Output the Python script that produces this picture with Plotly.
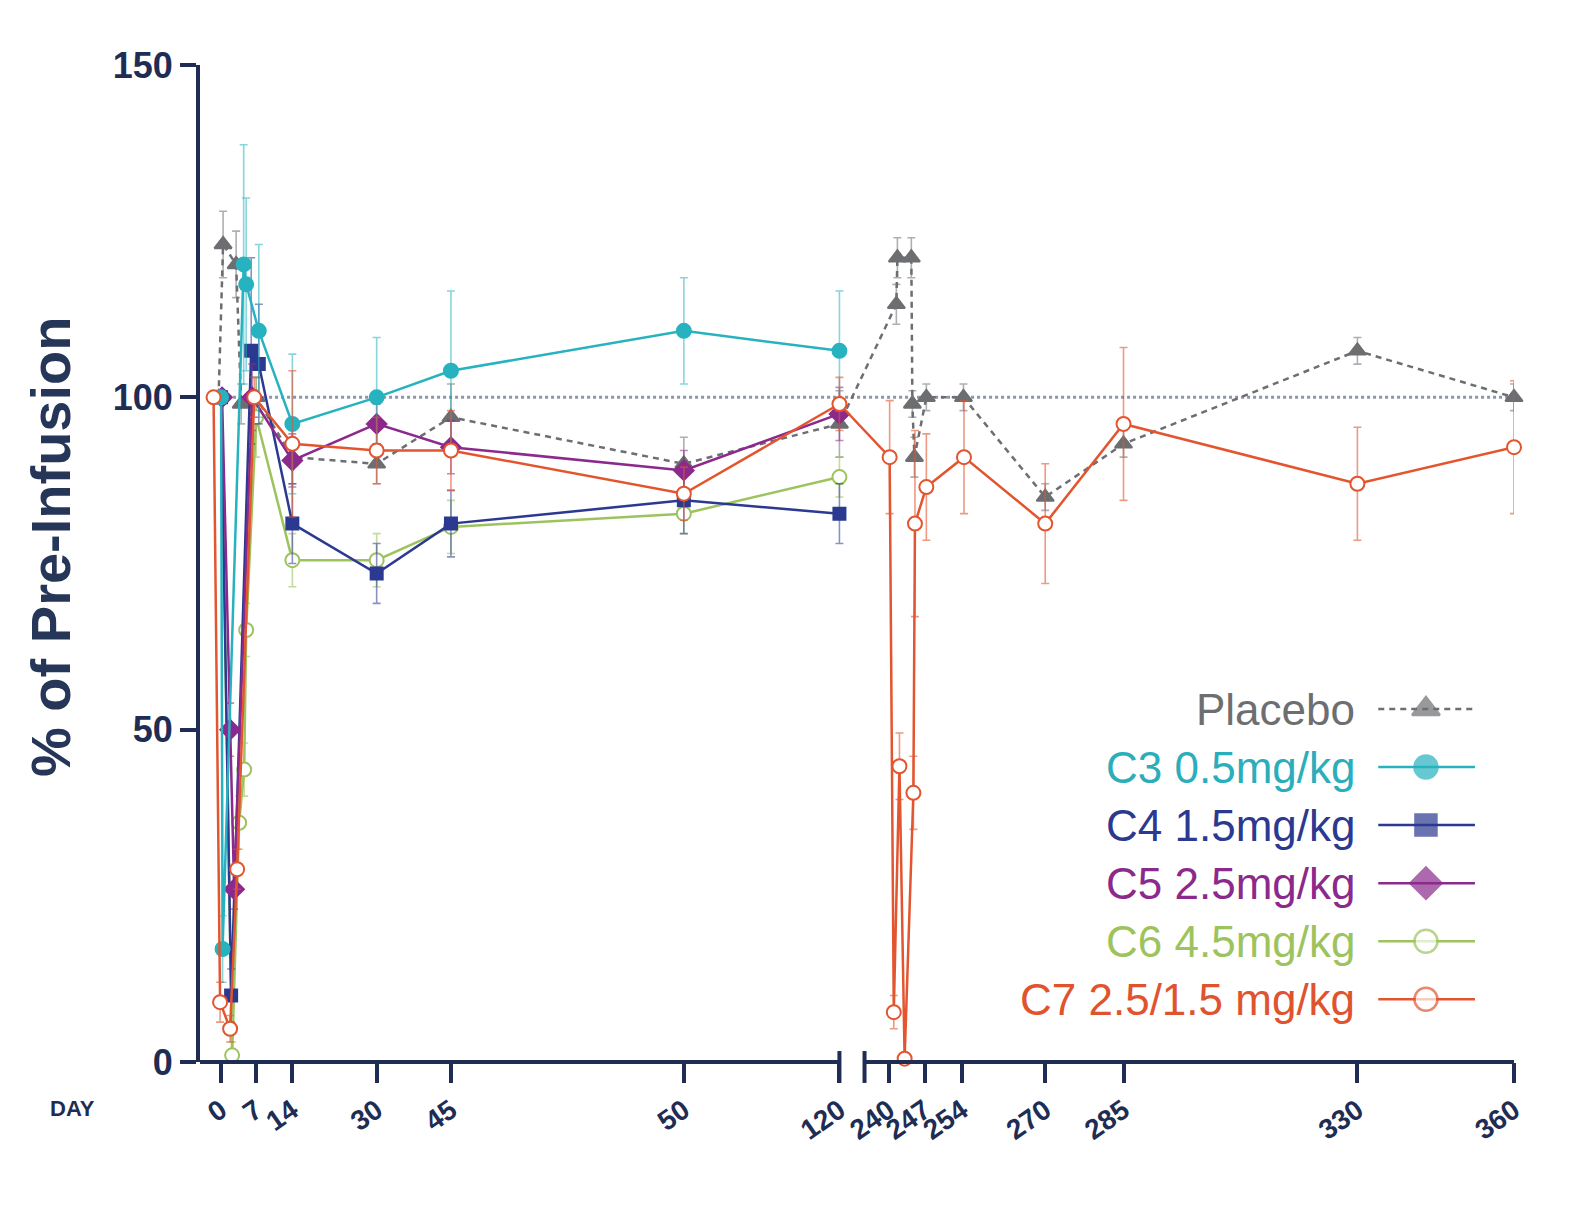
import numpy as np
import plotly.graph_objects as go

# ось X в исходнике сегментная (как в Prism): день -> позиция
AXIS_DAYS = [-2, 0, 7, 14, 30, 45, 50, 120, 240, 247, 254, 270, 285, 330, 360]
AXIS_POS = [207, 217, 252, 288, 372, 446, 678, 833, 882, 918, 955, 1038, 1116, 1349, 1505]
TICK_LABELS = ['0', '7', '14', '30', '45', '50', '120', '240', '247', '254', '270', '285', '330', '360']

# Placebo
placebo_days = [-0.5, 0.4, 3, 4, 7, 14, 30, 45, 50, 120, 241.5, 241.7, 244.4, 244.6, 245, 247.3, 254.3, 270, 285, 330, 360]
placebo_vals = [100, 123, 120, 99, 100, 91, 90, 97, 90, 96, 114, 121, 121, 99, 91, 100, 100, 85, 93, 107, 100]
placebo_err = [0, 5, 5, 3, 3, 4, 3, 5, 4, 5, 3, 3, 3, 2, 3, 2, 2, 2, 2, 2, 2]

# C3 0.5mg/kg
c3_days = [0, 0.3, 4.5, 5, 7.5, 14, 30, 45, 50, 120]
c3_vals = [100, 17, 120, 117, 110, 96, 100, 104, 110, 107]
c3_err = [0, 5, 18, 13, 13, 10.5, 9, 12, 8, 9]

# C4 1.5mg/kg
c4_days = [0, 2, 6, 7.5, 14, 30, 45, 50, 120]
c4_vals = [100, 10, 107, 105, 81, 73.5, 81, 84.5, 82.5]
c4_err = [0, 4, 14, 9, 6, 4.5, 5, 5, 4.5]

# C5 2.5mg/kg
c5_days = [0.2, 1.8, 2.6, 6.2, 14, 30, 45, 50, 120]
c5_vals = [100, 50, 26, 100, 90.5, 96, 92.5, 89, 97.5]
c5_err = [0, 4, 3, 5, 4, 3, 4, 3, 4]

# C6 4.5mg/kg
c6_days = [0, 2.2, 3.6, 4.6, 5, 7, 14, 30, 45, 50, 120]
c6_vals = [100, 1, 36, 44, 65, 97, 75.5, 75.5, 80.5, 82.5, 88]
c6_err = [0, 2, 4, 4, 4, 6, 4, 4, 4, 3, 3]

# C7 2.5/1.5 mg/kg
c7_days = [-1.5, -0.2, 1.8, 3.2, 6.6, 14, 30, 45, 50, 120, 240.2, 241, 242.1, 243.1, 244.8, 245.1, 247.3, 254.4, 270, 285, 330, 360]
c7_vals = [100, 9, 5, 29, 100, 93, 92, 92, 85.5, 99, 91, 7.5, 44.5, 0.5, 40.5, 81, 86.5, 91, 81, 96, 87, 92.5]
c7_err = [0, 3, 2, 3, 3, 11, 5, 6, 4, 4, 8.5, 2.5, 5, 0.5, 5.5, 14, 8, 8.5, 9, 11.5, 8.5, 10]

NAVY = '#1f2d54'

series = [
    # name, days, vals, err, line color, error color, symbol, fill, size, dash
    ('Placebo', placebo_days, placebo_vals, placebo_err, '#6d6e71', 'rgba(109,110,113,0.55)', 'triangle-up', '#6d6e71', 15, 'dash'),
    ('C6 4.5mg/kg', c6_days, c6_vals, c6_err, '#9dc35f', 'rgba(157,195,95,0.6)', 'circle', 'white', 14, 'solid'),
    ('C4 1.5mg/kg', c4_days, c4_vals, c4_err, '#2b3990', 'rgba(43,57,144,0.55)', 'square', '#2b3990', 12, 'solid'),
    ('C5 2.5mg/kg', c5_days, c5_vals, c5_err, '#8b2a8c', 'rgba(139,42,140,0.55)', 'diamond', '#8b2a8c', 15, 'solid'),
    ('C3 0.5mg/kg', c3_days, c3_vals, c3_err, '#27b2c0', 'rgba(39,178,192,0.55)', 'circle', '#27b2c0', 14, 'solid'),
    ('C7 2.5/1.5 mg/kg', c7_days, c7_vals, c7_err, '#e2552f', 'rgba(226,85,47,0.6)', 'circle', 'white', 14, 'solid'),
]

fig = go.Figure()

for name, days, vals, err, col, ecol, sym, fill, size, dash in series:
    xs = np.interp(days, AXIS_DAYS, AXIS_POS)
    fig.add_trace(go.Scatter(
        x=xs, y=vals, mode='lines+markers', name=name, showlegend=False,
        line=dict(color=col, width=2.5, dash='6px,5px' if dash == 'dash' else 'solid'),
        marker=dict(symbol=sym, size=size, color=fill, line=dict(color=col, width=2)),
        error_y=dict(type='data', array=err, color=ecol, thickness=1.6, width=4),
        cliponaxis=False,
    ))

# легенда справа от текста (как в исходнике)
legend_order = ['Placebo', 'C3 0.5mg/kg', 'C4 1.5mg/kg', 'C5 2.5mg/kg', 'C6 4.5mg/kg', 'C7 2.5/1.5 mg/kg']
legend_text_col = {
    'Placebo': '#6d6e71', 'C3 0.5mg/kg': '#2aaebc', 'C4 1.5mg/kg': '#2b3990',
    'C5 2.5mg/kg': '#8b2a8c', 'C6 4.5mg/kg': '#9dc35f', 'C7 2.5/1.5 mg/kg': '#e0532f',
}
style = {s[0]: s for s in series}
for i, name in enumerate(legend_order):
    ly = 0.354 - i * 0.0582
    _, _, _, _, col, _, sym, fill, size, dash = style[name]
    fig.add_annotation(x=0.8808, y=ly, xref='paper', yref='paper', text=name, showarrow=False,
                       xanchor='right', yanchor='middle',
                       font=dict(family='Liberation Sans, Arial', size=44, color=legend_text_col[name]))
    fig.add_trace(go.Scatter(
        x=[0.8967, 0.933, 0.9703], y=[ly, ly, ly], xaxis='x2', yaxis='y2',
        mode='lines+markers', showlegend=False, hoverinfo='skip',
        line=dict(color=col, width=2.5, dash='6px,5px' if dash == 'dash' else 'solid'),
        marker=dict(symbol=sym, size=[0, size + 9, 0], color=fill, line=dict(color=col, width=[0, 2.5, 0])),
        cliponaxis=False,
    ))

# сегменты оси X с разрывом
def px(p):
    return (p - 196) / (1505 - 196)

shapes = [
    dict(type='line', xref='paper', yref='paper', x0=0, x1=px(833), y0=0, y1=0, line=dict(color=NAVY, width=4)),
    dict(type='line', xref='paper', yref='paper', x0=px(858), x1=1, y0=0, y1=0, line=dict(color=NAVY, width=4)),
    dict(type='line', xref='paper', yref='paper', x0=px(833), x1=px(833), y0=0.011, y1=-0.021, line=dict(color=NAVY, width=4)),
    dict(type='line', xref='paper', yref='paper', x0=px(858), x1=px(858), y0=0.011, y1=-0.021, line=dict(color=NAVY, width=4)),
    dict(type='line', xref='x', yref='y', x0=217, x1=1505, y0=100, y1=100, layer='below',
         line=dict(color='#8d96a6', width=3, dash='dot')),
]

fig.update_layout(
    width=1561, height=1191,
    margin=dict(l=192, r=55, t=57, b=137),
    plot_bgcolor='white', paper_bgcolor='white',
    font=dict(family='Liberation Sans, Arial', color=NAVY),
    shapes=shapes,
    xaxis=dict(
        range=[196, 1505], showline=False, showgrid=False, zeroline=False,
        tickmode='array', tickvals=AXIS_POS[1:], ticktext=TICK_LABELS,
        ticks='outside', ticklen=20, tickwidth=4, tickcolor=NAVY, tickangle=-35,
        tickfont=dict(size=28, color=NAVY, weight='bold'),
    ),
    yaxis=dict(
        range=[0, 150], showline=True, linewidth=4, linecolor=NAVY, showgrid=False, zeroline=False,
        tickvals=[0, 50, 100, 150], ticks='outside', ticklen=16, tickwidth=4, tickcolor=NAVY,
        tickfont=dict(size=36, color=NAVY, weight='bold'),
    ),
    xaxis2=dict(overlaying='x', range=[0, 1], visible=False),
    yaxis2=dict(overlaying='y', range=[0, 1], visible=False),
    showlegend=False,
)

fig.add_annotation(x=-0.1142, y=0.5165, xref='paper', yref='paper', text='% of Pre-Infusion',
                   textangle=-90, showarrow=False, xanchor='center', yanchor='middle',
                   font=dict(size=56, color='#263659', weight='bold'))
fig.add_annotation(x=-0.0974, y=-0.0471, xref='paper', yref='paper', text='DAY', showarrow=False,
                   xanchor='center', yanchor='middle', font=dict(size=22, color=NAVY, weight='bold'))

fig.write_html("out.html")
